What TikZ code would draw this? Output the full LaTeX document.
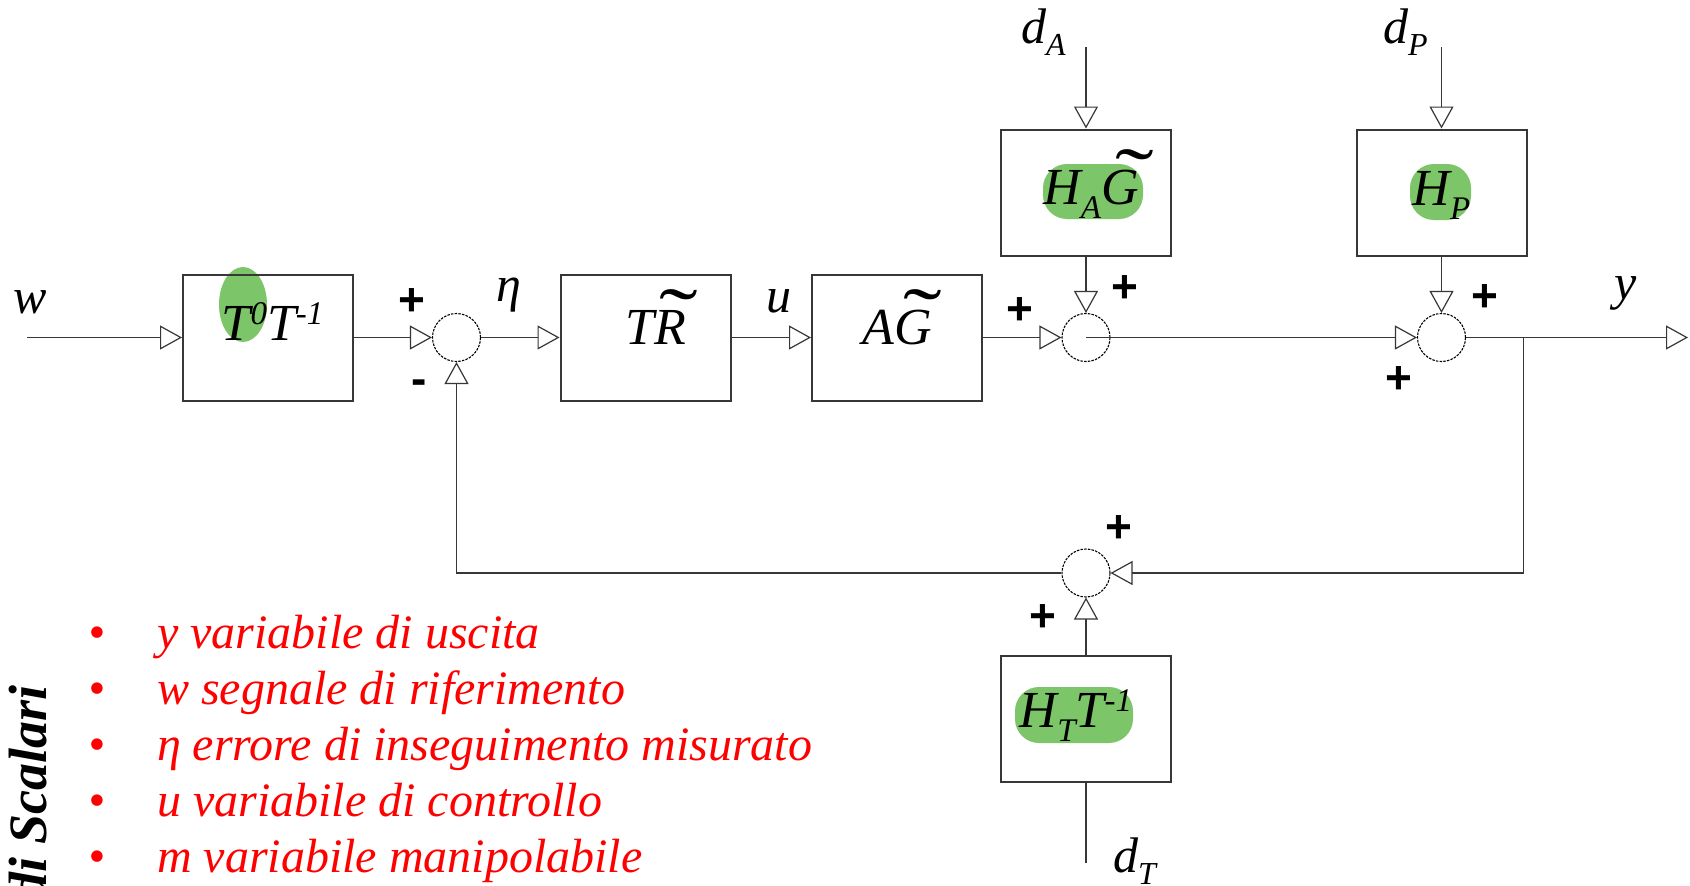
\documentclass[tikz,border=0pt]{standalone}
\usepackage{fontspec}
\usepackage{graphicx}
\setmainfont{Liberation Serif}
\setsansfont{Liberation Sans}
\usetikzlibrary{arrows.meta,calc}
\definecolor{grc}{RGB}{124,197,104}
\definecolor{lnc}{RGB}{55,55,55}
\newcommand\sps[1]{\raisebox{16pt}{\fontsize{33}{33}\selectfont #1}}
\newcommand\sbs[1]{\raisebox{-14pt}{\fontsize{33}{33}\selectfont #1}}
\newcommand\sbv[1]{\raisebox{-12pt}{\fontsize{32}{32}\selectfont #1}}
\newcommand\tld[2]{\leavevmode\rlap{\hspace{#1}\raisebox{1pt}{\scalebox{1.45}[1]{\fontsize{80}{80}\selectfont\upshape ˜}}}#2}
\begin{document}
\begin{tikzpicture}[x=1pt,y=-1pt,
  ln/.style={draw=lnc, line width=1.4pt},
  conn/.style={ln, -{Triangle[open,length=22pt,width=24pt,line width=1.2pt]}},
  blk/.style={draw=lnc, line width=2pt, minimum width=170pt, minimum height=126pt, inner sep=0pt},
  sumc/.style={circle, draw=black, line width=1.1pt, dash pattern=on 2.5pt off 1.2pt, minimum size=48pt, inner sep=0pt},
  lbl/.style={font=\fontsize{52}{52}\selectfont\itshape, inner sep=0pt},
  var/.style={font=\fontsize{50}{50}\selectfont\itshape, inner sep=0pt},
  sgn/.style={font=\fontsize{46}{46}\selectfont\sffamily\bfseries, inner sep=0pt},
  bul/.style={font=\fontsize{48}{48}\selectfont\itshape, text=red, inner sep=0pt, anchor=base west},
]
\fill[white] (0,0) rectangle (1690,886);
\useasboundingbox (0,0) rectangle (1690,886);

% highlights
\fill[grc] (243,304.5) ellipse [x radius=24pt, y radius=37.5pt];
\fill[grc, rounded corners=24pt] (1043,164) rectangle (1143,219);
\fill[grc, rounded corners=24pt] (1410,164) rectangle (1471,220);
\fill[grc, rounded corners=24pt] (1015,687) rectangle (1133,743);

% blocks
\node[blk] (b1) at (268,337.5) {};
\node[blk] (btr) at (645.5,337.5) {};
\node[blk] (bag) at (897,337.5) {};
\node[blk] (bha) at (1086,192.5) {};
\node[blk] (bhp) at (1441.5,192.5) {};
\node[blk] (bht) at (1086,718.5) {};

% block labels
\node[lbl, anchor=base] (t1) at (272.5,340) {T\sps{0}T\sps{-1}};
\node[lbl, anchor=base] (t2) at (656,344) {T\tld{5pt}{R}};
\node[lbl, anchor=base] (t3) at (897.5,344) {A\tld{9pt}{G}};
\node[lbl, anchor=base] (t4) at (1091,204) {H\sbs{A}\tld{14pt}{G}};
\node[lbl, anchor=base] (t5) at (1441.5,205) {H\sbs{P}};
\node[lbl, anchor=base] (t6) at (1076,727) {H\sbs{T}T\sps{-1}};

% summing junctions
\node[sumc] (s1) at (456.5,337.5) {};
\node[sumc] (s2) at (1086,337.5) {};
\node[sumc] (s3) at (1441.5,337.5) {};
\node[sumc] (s4) at (1086,573) {};

% connectors
\coordinate (win) at (27,337.5);
\coordinate (yout) at (1688,337.5);
\coordinate (br) at (1523.5,337.5);
\coordinate (dain) at (1086,47);
\coordinate (dpin) at (1441.5,47);
\coordinate (dtin) at (1086,863);
\draw[conn] (win) -- (b1.west);
\draw[conn] (b1.east) -- (s1.west);
\draw[conn] (s1.east) -- (btr.west);
\draw[conn] (btr.east) -- (bag.west);
\draw[conn] (bag.east) -- (s2.west);
\draw[conn] (s2.center) -- (s3.west);
\draw[conn] (s3.east) -- (yout);
\draw[conn] (br) |- (s4.east);
\draw[conn] (s4.west) -| (s1.south);
\draw[conn] (dain) -- (bha.north);
\draw[conn] (bha.south) -- (s2.north);
\draw[conn] (dpin) -- (bhp.north);
\draw[conn] (bhp.south) -- (s3.north);
\draw[ln] (dtin) -- (bht.south);
\draw[conn] (bht.north) -- (s4.south);

% signs
\node[sgn] (p1) at (411.5,302) {+};
\node[sgn] (m1) at (419.5,387) {-};
\node[sgn] (p2a) at (1020,311) {+};
\node[sgn] (p2b) at (1124.5,289) {+};
\node[sgn] (p3a) at (1485,298.5) {+};
\node[sgn] (p3b) at (1399,380) {+};
\node[sgn] (p4a) at (1119,529.5) {+};
\node[sgn] (p4b) at (1042.5,618) {+};

% variable labels
\node[var] (lw) at (30,302.5) {w};
\node[var] (leta) at (509,295) {η};
\node[var] (lu) at (779,301) {u};
\node[var] (ly) at (1626,293.5) {y};
\node[var, anchor=base west] (lda) at (1021,43) {d\sbv{A}};
\node[var, anchor=base west] (ldp) at (1383,43) {d\sbv{P}};
\node[var, anchor=base west] (ldt) at (1113,872) {d\sbv{T}};

% bullet list
\node[bul] (l1) at (88,648) {\makebox[69pt][l]{•}y variabile di uscita};
\node[bul] (l2) at (88,704) {\makebox[69pt][l]{•}w segnale di riferimento};
\node[bul] (l3) at (88,760) {\makebox[69pt][l]{•}η errore di inseguimento misurato};
\node[bul] (l4) at (88,816) {\makebox[69pt][l]{•}u variabile di controllo};
\node[bul] (l5) at (88,872) {\makebox[69pt][l]{•}m variabile manipolabile};

% side title
\node[font=\fontsize{54}{54}\selectfont\bfseries\itshape, rotate=90, anchor=base west, inner sep=0pt] (side) at (46,900) {di Scalari};
\end{tikzpicture}
\end{document}
